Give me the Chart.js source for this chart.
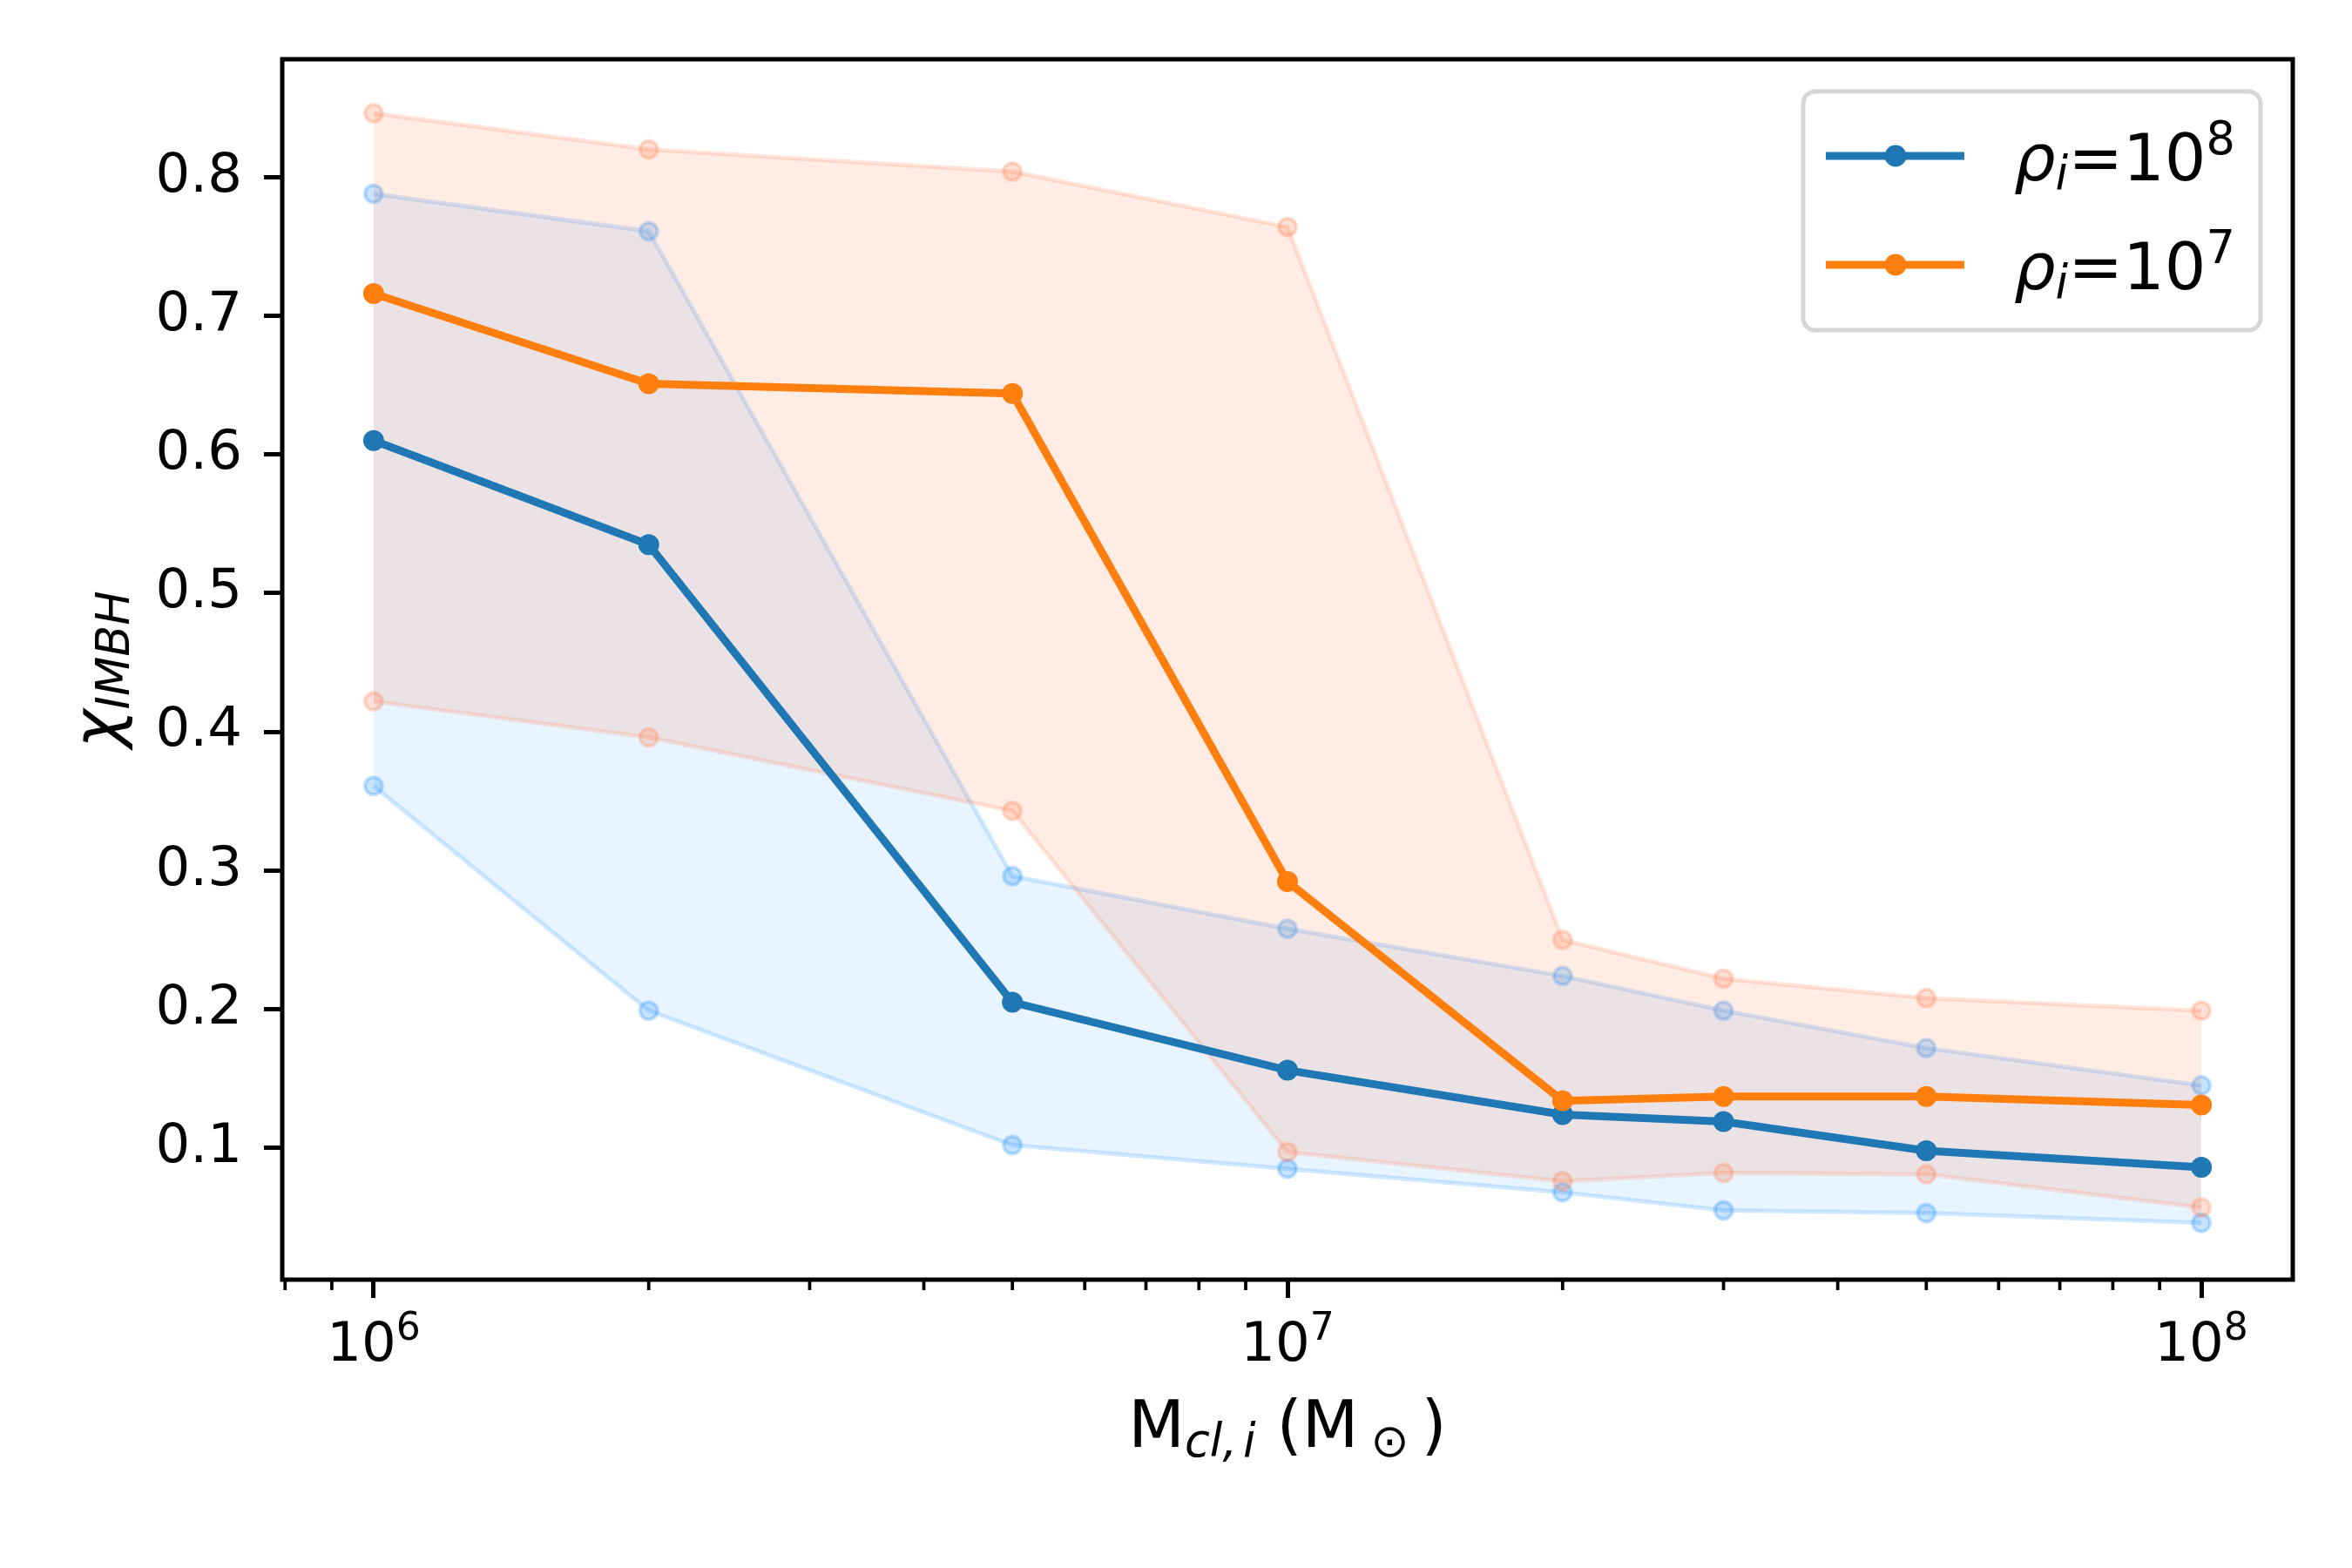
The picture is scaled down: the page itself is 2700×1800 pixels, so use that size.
<!DOCTYPE html>
<html>
<head>
<meta charset="utf-8">
<title>IMBH fraction vs initial cluster mass</title>
<script src="https://cdn.jsdelivr.net/npm/chart.js@4.4.1/dist/chart.umd.min.js"></script>
<style>
  html, body { margin: 0; padding: 0; background: #fff; }
  #wrap { width: 2700px; height: 1800px; }
</style>
</head>
<body>
<div id="wrap"><canvas id="chart" width="2700" height="1800"></canvas></div>
<script>
// initial cluster mass (M_sun)
const masses = [1e6, 2e6, 5e6, 1e7, 2e7, 3e7, 5e7, 1e8];

// rho_i = 10^8 : mean and spread
const rho8Mean = [0.610, 0.535, 0.205, 0.156, 0.124, 0.119, 0.098, 0.086];
const rho8Hi   = [0.788, 0.761, 0.296, 0.258, 0.224, 0.199, 0.172, 0.145];
const rho8Lo   = [0.361, 0.199, 0.102, 0.085, 0.068, 0.055, 0.053, 0.046];

// rho_i = 10^7 : mean and spread
const rho7Mean = [0.716, 0.651, 0.644, 0.292, 0.134, 0.137, 0.137, 0.131];
const rho7Hi   = [0.846, 0.820, 0.804, 0.764, 0.250, 0.222, 0.208, 0.199];
const rho7Lo   = [0.422, 0.396, 0.343, 0.097, 0.076, 0.082, 0.081, 0.057];

// ticks
const yTicks = [0.1, 0.2, 0.3, 0.4, 0.5, 0.6, 0.7, 0.8];
const xMajorTicks = [1e6, 1e7, 1e8];
const xMajorExp = ['6', '7', '8'];
const xMinorTicks = [8e5, 9e5, 2e6, 3e6, 4e6, 5e6, 6e6, 7e6, 8e6, 9e6,
                     2e7, 3e7, 4e7, 5e7, 6e7, 7e7, 8e7, 9e7];

// legend
const legendExp = ['8', '7'];

const FONT = '"DejaVu Sans"';
const BLUE = '#1f77b4';
const ORANGE = '#ff7f0e';

function pts(ys) {
    return masses.map((m, i) => ({ x: m, y: ys[i] }));
}

function fontOf(r) {
    return (r.italic ? 'italic ' : '') + r.size + 'px ' + FONT;
}

// width of a run of text pieces (mathtext-like)
function runWidth(ctx, runs) {
    let w = 0;
    runs.forEach(r => {
        ctx.font = fontOf(r);
        w += (r.dx || 0) + ctx.measureText(r.t).width;
    });
    return w;
}

function drawRuns(ctx, runs, x, y) {
    runs.forEach(r => {
        ctx.font = fontOf(r);
        x += r.dx || 0;
        ctx.fillText(r.t, x, y + (r.dy || 0));
        x += ctx.measureText(r.t).width;
    });
}

function bandSet(data, rgb, fillAlpha, fillTo, order) {
    return {
        data: pts(data),
        borderColor: 'rgba(' + rgb + ',0.2)',
        borderWidth: 5,
        backgroundColor: 'rgba(' + rgb + ',' + fillAlpha + ')',
        fill: fillTo,
        pointRadius: 10,
        pointBorderWidth: 4,
        pointBackgroundColor: 'rgba(' + rgb + ',0.25)',
        pointBorderColor: 'rgba(' + rgb + ',0.28)',
        tension: 0,
        order: order
    };
}

function meanSet(data, color, order) {
    return {
        data: pts(data),
        borderColor: color,
        borderWidth: 9,
        backgroundColor: color,
        fill: false,
        pointRadius: 12,
        pointBorderWidth: 0,
        pointBackgroundColor: color,
        tension: 0,
        order: order
    };
}

// frame, minor ticks, math labels and legend
const decorations = {
    id: 'decorations',
    afterDraw(chart) {
        const ctx = chart.ctx;
        const area = chart.chartArea;
        const xs = chart.scales.x;
        ctx.save();
        ctx.fillStyle = '#000';
        ctx.strokeStyle = '#000';
        ctx.textAlign = 'left';
        ctx.textBaseline = 'alphabetic';

        // axes frame
        ctx.lineWidth = 5;
        ctx.strokeRect(area.left, area.top, area.right - area.left, area.bottom - area.top);

        // minor x ticks
        ctx.lineWidth = 3.75;
        xMinorTicks.forEach(v => {
            const px = xs.getPixelForValue(v);
            ctx.beginPath();
            ctx.moveTo(px, area.bottom);
            ctx.lineTo(px, area.bottom + 12);
            ctx.stroke();
        });

        // x tick labels 10^n
        xMajorTicks.forEach((v, i) => {
            const runs = [{ t: '10', size: 62.5 }, { t: xMajorExp[i], size: 44, dy: -24 }];
            const w = runWidth(ctx, runs);
            drawRuns(ctx, runs, xs.getPixelForValue(v) - w / 2, 1562);
        });

        // x axis title
        const xTitle = [
            { t: 'M', size: 75 },
            { t: 'cl,', size: 52.5, italic: true, dy: 11 },
            { t: 'i', size: 52.5, italic: true, dy: 11, dx: 7 },
            { t: ' (M', size: 75 },
            { t: '\u2299', size: 52.5, dy: 11, dx: 14 },
            { t: ')', size: 75, dx: 14 }
        ];
        const xw = runWidth(ctx, xTitle);
        drawRuns(ctx, xTitle, (area.left + area.right) / 2 - xw / 2, 1661);

        // y axis title
        const yTitle = [
            { t: '\u03c7', size: 75, italic: true },
            { t: 'IMBH', size: 52.5, italic: true, dy: 12 }
        ];
        const yw = runWidth(ctx, yTitle);
        ctx.save();
        ctx.translate(136, (area.top + area.bottom) / 2);
        ctx.rotate(-Math.PI / 2);
        drawRuns(ctx, yTitle, -yw / 2, 0);
        ctx.restore();

        // legend box
        const bx = 2070, by = 105, bw = 525, bh = 274, rad = 14;
        ctx.beginPath();
        ctx.roundRect(bx, by, bw, bh, rad);
        ctx.fillStyle = 'rgba(255,255,255,0.8)';
        ctx.fill();
        ctx.lineWidth = 5;
        ctx.strokeStyle = '#d6d6d6';
        ctx.stroke();

        const legendColors = [BLUE, ORANGE];
        const lineY = [179, 304];
        const textY = [207, 332];
        legendColors.forEach((c, i) => {
            ctx.strokeStyle = c;
            ctx.fillStyle = c;
            ctx.lineWidth = 9;
            ctx.beginPath();
            ctx.moveTo(2096, lineY[i]);
            ctx.lineTo(2255, lineY[i]);
            ctx.stroke();
            ctx.beginPath();
            ctx.arc(2176, lineY[i], 12.5, 0, Math.PI * 2);
            ctx.fill();

            ctx.fillStyle = '#000';
            drawRuns(ctx, [
                { t: '\u03c1', size: 75, italic: true },
                { t: 'i', size: 52.5, italic: true, dy: 10 },
                { t: '=10', size: 75 },
                { t: legendExp[i], size: 52.5, dy: -30 }
            ], 2312, textY[i]);
        });

        ctx.restore();
    }
};

const ctx = document.getElementById('chart').getContext('2d');
const chart = new Chart(ctx, {
    type: 'line',
    data: {
        datasets: [
            bandSet(rho8Hi, '30,144,255', 0.1, '+1', 4),
            bandSet(rho8Lo, '30,144,255', 0.1, false, 4),
            bandSet(rho7Hi, '255,127,80', 0.15, '+1', 3),
            bandSet(rho7Lo, '255,127,80', 0.15, false, 3),
            meanSet(rho8Mean, BLUE, 1),
            meanSet(rho7Mean, ORANGE, 0)
        ]
    },
    options: {
        responsive: false,
        devicePixelRatio: 1,
        animation: false,
        events: [],
        layout: {
            autoPadding: false,
            padding: { left: 0, top: 68, right: 68, bottom: 0 }
        },
        plugins: {
            legend: { display: false },
            tooltip: { enabled: false },
            title: { display: false }
        },
        scales: {
            x: {
                type: 'logarithmic',
                position: 'bottom',
                min: Math.pow(10, 5.9),
                max: Math.pow(10, 8.1),
                afterBuildTicks: axis => {
                    axis.ticks = xMajorTicks.map(v => ({ value: v }));
                },
                afterFit: axis => { axis.height = 331; },
                ticks: {
                    autoSkip: false,
                    maxRotation: 0,
                    callback: () => ''
                },
                grid: {
                    display: true,
                    drawOnChartArea: false,
                    drawTicks: true,
                    tickLength: 21,
                    tickWidth: 5,
                    tickColor: '#000'
                },
                border: { display: false }
            },
            y: {
                type: 'linear',
                position: 'left',
                min: 0.005,
                max: 0.885,
                afterBuildTicks: axis => {
                    axis.ticks = yTicks.map(v => ({ value: v }));
                },
                afterFit: axis => { axis.width = 324; },
                ticks: {
                    color: '#000',
                    padding: 25,
                    font: { family: FONT, size: 62.5 },
                    callback: v => v.toFixed(1)
                },
                grid: {
                    display: true,
                    drawOnChartArea: false,
                    drawTicks: true,
                    tickLength: 21,
                    tickWidth: 5,
                    tickColor: '#000'
                },
                border: { display: false }
            }
        }
    },
    plugins: [decorations]
});
</script>
</body>
</html>
